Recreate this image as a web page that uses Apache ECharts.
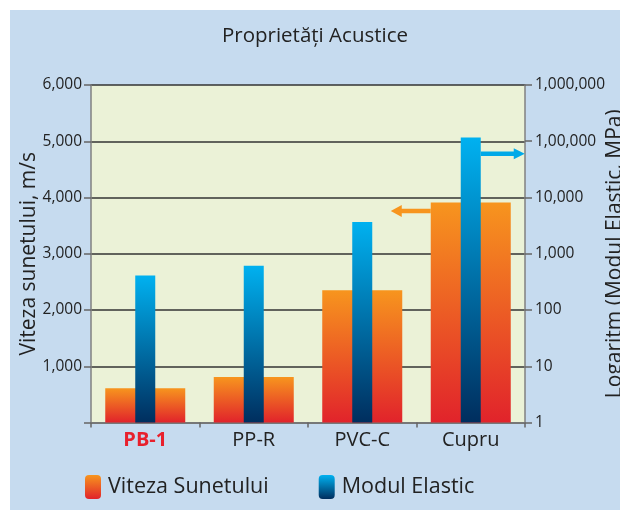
<!DOCTYPE html>
<html>
<head>
<meta charset="utf-8">
<script src="https://cdn.jsdelivr.net/npm/echarts@6/dist/echarts.min.js"></script>
<style>
html,body{margin:0;padding:0;background:#ffffff;}
#chart{position:absolute;left:10px;top:10px;width:610px;height:500px;}
</style>
</head>
<body>
<div id="chart"></div>
<script>
const categories = ['PB-1', 'PP-R', 'PVC-C', 'Cupru'];
const sunetValues = [610, 810, 2350, 3910];          // m/s (left axis)
const modulValues = [410, 610, 3650, 117000];        // MPa (right log axis)
const leftTickLabels = ['', '1,000', '2,000', '3,000', '4,000', '5,000', '6,000'];
const rightTickLabels = ['1', '10', '100', '1,000', '10,000', '1,00,000', '1,000,000'];
const orangeArrowValue = 3760;   // left-axis level of the left-pointing arrow
const blueArrowValue = 60000;    // right-axis level of the right-pointing arrow

const FONT = 'Open Sans';
const orangeGrad = new echarts.graphic.LinearGradient(0, 0, 0, 1, [
  {offset: 0, color: '#f7951e'}, {offset: 1, color: '#e1232b'}
]);
const blueGrad = new echarts.graphic.LinearGradient(0, 0, 0, 1, [
  {offset: 0, color: '#00b1f0'}, {offset: 1, color: '#002e5e'}
]);

const chart = echarts.init(document.getElementById('chart'));
const ORANGE_W = 80, BLUE_W = 20;

chart.setOption({
  backgroundColor: '#c6dbef',
  animation: false,
  textStyle: {fontFamily: FONT},
  title: {
    text: 'Proprietăți Acustice',
    left: 'center', top: 11,
    textStyle: {fontFamily: FONT, fontSize: 20.5, fontWeight: 'normal', color: '#222'}
  },
  legend: {
    left: 70, top: 460,
    itemWidth: 16, itemHeight: 24, itemGap: 50,
    textStyle: {fontFamily: FONT, fontSize: 21.5, color: '#222', padding: [0, 0, 0, 2]},
    data: ['Viteza Sunetului', 'Modul Elastic']
  },
  grid: {left: 81, right: 95, top: 75, bottom: 87.5, show: true, backgroundColor: '#ebf2d7',
         borderWidth: 0, outerBoundsMode: 'none', containLabel: false},
  xAxis: [{
    type: 'category', data: categories,
    axisLine: {lineStyle: {color: '#808080', width: 1.5}},
    axisTick: {show: true, length: 5, lineStyle: {color: '#666', width: 1.5}},
    axisLabel: {
      margin: 8, fontSize: 20, color: '#222', fontFamily: FONT,
      formatter: v => v === 'PB-1' ? '{r|' + v + '}' : v,
      rich: {r: {color: '#e8202c', fontWeight: 'bold', fontSize: 20, fontFamily: FONT}}
    }
  }, {
    type: 'category', data: categories, show: false, position: 'bottom'
  }],
  yAxis: [{
    type: 'value', min: 0, max: 6000, interval: 1000,
    name: 'Viteza sunetului, m/s', nameLocation: 'middle', nameRotate: 90, nameGap: 51,
    nameMoveOverlap: false,
    nameTextStyle: {fontFamily: FONT, fontSize: 21, color: '#222'},
    axisLine: {show: true, lineStyle: {color: '#808080', width: 1.5}},
    axisTick: {show: true, length: 7, lineStyle: {color: '#666', width: 1.5}},
    axisLabel: {fontSize: 15.5, color: '#222', margin: 9, fontFamily: FONT,
      formatter: v => leftTickLabels[Math.round(v / 1000)]},
    splitLine: {show: true, lineStyle: {color: '#333', width: 1.5}}
  }, {
    type: 'log', logBase: 10, min: 1, max: 1000000, position: 'right',
    name: 'Logaritm (Modul Elastic, MPa)', nameLocation: 'middle', nameRotate: 90, nameGap: 80,
    nameMoveOverlap: false,
    nameTextStyle: {fontFamily: FONT, fontSize: 21, color: '#222'},
    axisLine: {show: true, lineStyle: {color: '#808080', width: 1.5}},
    axisTick: {show: true, length: 7, lineStyle: {color: '#666', width: 1.5}},
    axisLabel: {fontSize: 15.5, color: '#222', margin: 10, fontFamily: FONT,
      formatter: v => rightTickLabels[Math.round(Math.log10(v))]},
    splitLine: {show: false}
  }],
  series: [{
    name: 'Viteza Sunetului', type: 'bar', xAxisIndex: 0, yAxisIndex: 0,
    data: sunetValues, barWidth: ORANGE_W, itemStyle: {color: orangeGrad}, z: 2
  }, {
    name: 'Modul Elastic', type: 'bar', xAxisIndex: 1, yAxisIndex: 1,
    data: modulValues, barWidth: BLUE_W, itemStyle: {color: blueGrad}, z: 3
  }]
});

function arrowPoints(xTail, xTip, y, shaft, head, headLen) {
  const d = xTip > xTail ? 1 : -1;
  const xb = xTip - d * headLen;
  return [[xTail, y - shaft], [xb, y - shaft], [xb, y - head], [xTip, y],
          [xb, y + head], [xb, y + shaft], [xTail, y + shaft]];
}
const cx = chart.convertToPixel({xAxisIndex: 0}, categories[3]);
const yO = chart.convertToPixel({yAxisIndex: 0}, orangeArrowValue);
const yB = chart.convertToPixel({yAxisIndex: 1}, blueArrowValue);
const oLeft = cx - ORANGE_W / 2;
const bRight = cx + BLUE_W / 2;
chart.setOption({
  graphic: [
    {type: 'polygon', z: 10, shape: {points: arrowPoints(oLeft, oLeft - 40, yO, 2.2, 6, 11)},
     style: {fill: '#f7951e'}},
    {type: 'polygon', z: 10, shape: {points: arrowPoints(bRight, bRight + 44, yB, 2.2, 5.5, 11)},
     style: {fill: '#00a9e8'}}
  ]
});
</script>
</body>
</html>
